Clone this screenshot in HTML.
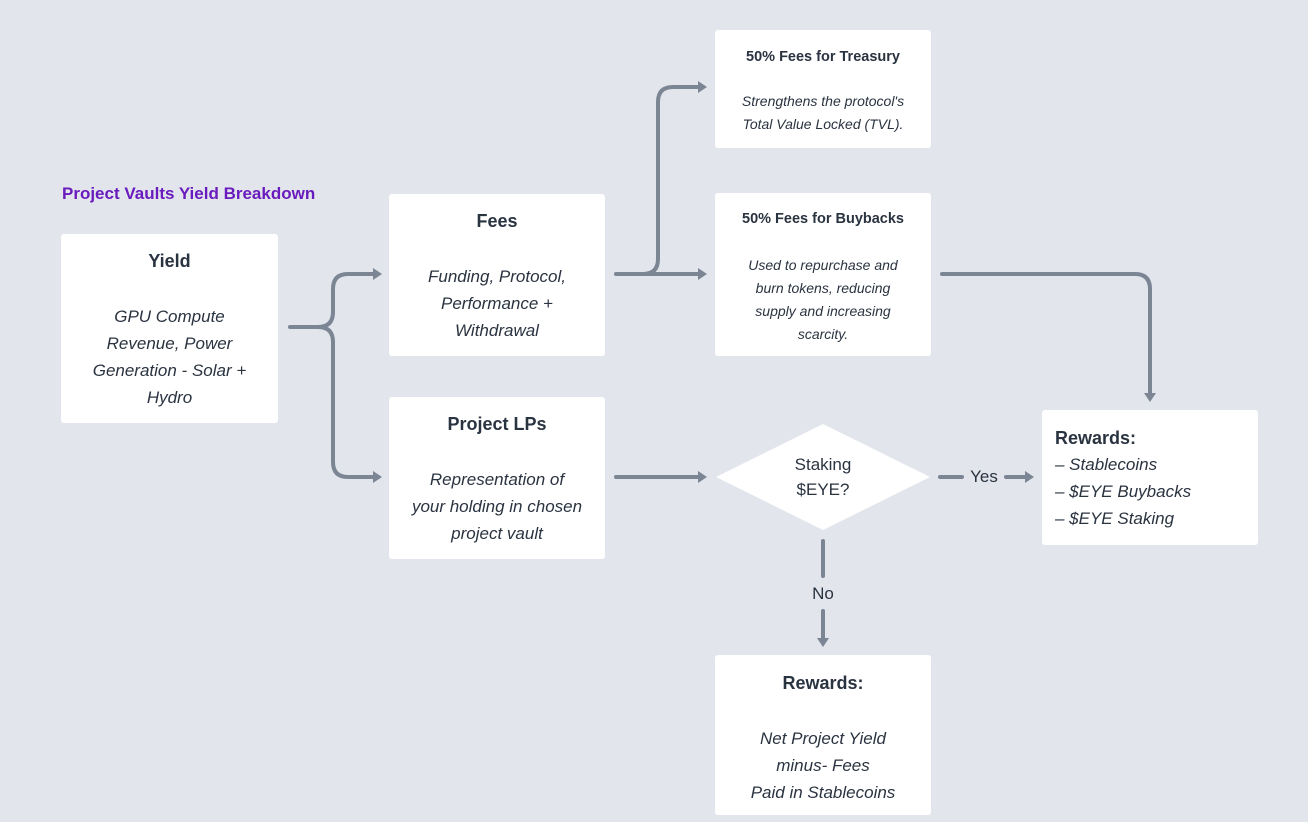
<!DOCTYPE html>
<html><head><meta charset="utf-8"><style>
body{margin:0;width:1308px;height:822px;background:#e2e6ec;font-family:"Liberation Sans",sans-serif;color:#2a3340;position:relative;overflow:hidden}
.b{position:absolute;background:#fff;border-radius:3px;text-align:center;box-sizing:border-box}
.t{font-weight:bold;font-size:18px}
.i{font-style:italic;font-size:17px;line-height:27px}
.s .t{font-size:14.5px}
.s .i{font-size:14px;line-height:23px}
svg{position:absolute;left:0;top:0}
</style></head><body>
<svg width="1308" height="822" fill="none" stroke="#7b8594" stroke-width="4" stroke-linecap="round">
<path d="M290 327 H318 Q333 327 333 312 V289 Q333 274 348 274 H376"/>
<path d="M318 327 Q333 327 333 342 V462 Q333 477 348 477 H376"/>
<path d="M616 274 H700"/>
<path d="M643 274 Q658 274 658 259 V102 Q658 87 673 87 H700"/>
<path d="M616 477 H700"/>
<path d="M942 274 H1135 Q1150 274 1150 289 V394"/>
<path d="M940 477 H962"/>
<path d="M1006 477 H1026"/>
<path d="M823 541 V576"/>
<path d="M823 611 V640"/>
<g fill="#7b8594" stroke="none">
<path d="M382 274 l-9 -6 v12z"/><path d="M382 477 l-9 -6 v12z"/>
<path d="M707 274 l-9 -6 v12z"/><path d="M707 87 l-9 -6 v12z"/>
<path d="M707 477 l-9 -6 v12z"/><path d="M1034 477 l-9 -6 v12z"/>
<path d="M1150 402 l-6 -9 h12z"/><path d="M823 647 l-6 -9 h12z"/>
</g>
<polygon points="823,424 930,477 823,530 716,477" fill="#fff" stroke="none"/>
</svg>
<div style="position:absolute;left:62px;top:184px;color:#6a1bbd;font-weight:bold;font-size:17px">Project Vaults Yield Breakdown</div>
<div class="b" style="left:61px;top:234px;width:217px;height:189px;padding-top:17px"><div class="t">Yield</div><div class="i" style="margin-top:31px;padding:0 20px">GPU Compute Revenue, Power Generation - Solar + Hydro</div></div>
<div class="b" style="left:389px;top:194px;width:216px;height:162px;padding-top:17px"><div class="t">Fees</div><div class="i" style="margin-top:31px">Funding, Protocol,<br>Performance +<br>Withdrawal</div></div>
<div class="b" style="left:389px;top:397px;width:216px;height:162px;padding-top:17px"><div class="t">Project LPs</div><div class="i" style="margin-top:31px">Representation of<br>your holding in chosen<br>project vault</div></div>
<div class="b s" style="left:715px;top:30px;width:216px;height:118px;padding-top:19px"><div class="t">50% Fees for Treasury</div><div class="i" style="margin-top:25px">Strengthens the protocol's<br>Total Value Locked (TVL).</div></div>
<div class="b s" style="left:715px;top:193px;width:216px;height:163px;padding-top:18px"><div class="t">50% Fees for Buybacks</div><div class="i" style="margin-top:27px">Used to repurchase and<br>burn tokens, reducing<br>supply and increasing<br>scarcity.</div></div>
<div style="position:absolute;left:760px;top:452px;width:126px;text-align:center;font-size:17px;line-height:25px">Staking<br>$EYE?</div>
<div style="position:absolute;left:962px;top:467px;width:44px;text-align:center;font-size:17px">Yes</div>
<div style="position:absolute;left:803px;top:584px;width:40px;text-align:center;font-size:17px">No</div>
<div class="b" style="left:1042px;top:410px;width:216px;height:135px;padding:16px 0 0 13px;text-align:left"><div class="t" style="line-height:24px">Rewards:</div><div class="i" style="line-height:27px;margin-top:1px">– Stablecoins<br>– $EYE Buybacks<br>– $EYE Staking</div></div>
<div class="b" style="left:715px;top:655px;width:216px;height:160px;padding-top:18px"><div class="t">Rewards:</div><div class="i" style="margin-top:31px">Net Project Yield<br>minus- Fees<br>Paid in Stablecoins</div></div>
</body></html>
